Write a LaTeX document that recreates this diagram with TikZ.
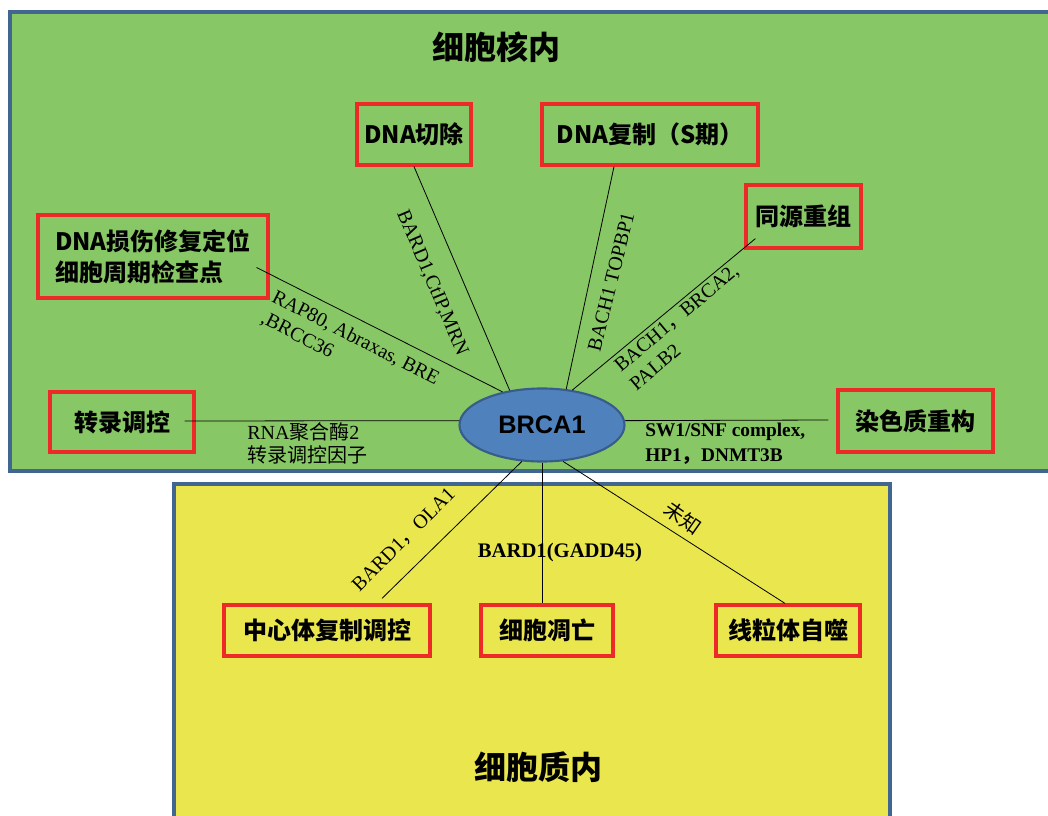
\documentclass[tikz,border=0pt]{standalone}
\usepackage{fontspec}
\setmainfont{Liberation Serif}
\newfontfamily\cjk{Noto Sans CJK SC}
\newfontfamily\sansf{Liberation Sans}
\usetikzlibrary{shapes.geometric,calc}
\definecolor{nucgreen}{HTML}{88C765}
\definecolor{cytyellow}{HTML}{EAE64E}
\definecolor{frameblue}{HTML}{41668F}
\definecolor{boxred}{HTML}{EC2A27}
\definecolor{ellblue}{HTML}{4F81BD}
\definecolor{ellborder}{HTML}{385D8A}
\begin{document}
\begin{tikzpicture}[x=0.75pt,y=-0.75pt,
  rbox/.style 2 args={draw=boxred, line width=2.4pt, minimum width=#1*0.75pt,
    minimum height=#2*0.75pt, inner sep=0pt, font=\cjk\bfseries\fontsize{18}{23}\selectfont},
  region/.style={draw=frameblue, line width=2.6pt},
  regtitle/.style={font=\cjk\bfseries\fontsize{24}{28}\selectfont, inner sep=0pt},
  lnk/.style={draw=black, line width=0.6pt},
  lbl/.style={font=\fontsize{15}{18}\selectfont, inner sep=0pt},
  lblb/.style={font=\bfseries\fontsize{15}{18}\selectfont, inner sep=0pt},
  hub/.style={ellipse, fill=ellblue, draw=ellborder, line width=1.6pt,
    minimum width=165*0.75pt, minimum height=73*0.75pt, inner sep=0pt,
    font=\sansf\bfseries\fontsize{19}{22}\selectfont}
]
\useasboundingbox (0,0) rectangle (1048,816);
\fill[white] (0,0) rectangle (1048,816);
% regions
\draw[region, fill=nucgreen] (10,12) rectangle (1075,471);
\draw[region, fill=cytyellow] (174,484) rectangle (890,850);
\node[regtitle] (tnuc) at (496,47) {细胞核内};
\node[regtitle] (tcyt) at (538,767) {细胞质内};

% hub
\node[hub] (brca) at (542,425) {BRCA1};

% boxes
\node[rbox={114}{61}] (dna1) at (414,134.5) {DNA切除};
\node[rbox={216}{61}] (dna2) at (650,134.5) {DNA复制（S期）};
\node[rbox={115}{63}] (hr) at (803.5,216.5) {同源重组};
\node[rbox={230}{83}, align=left] (dmg) at (153,256.5) {DNA损伤修复定位\\细胞周期检查点};
\node[rbox={144}{60}] (tr) at (122,422) {转录调控};
\node[rbox={155}{62}] (cr) at (915.5,421) {染色质重构};
\node[rbox={206}{51}] (cs) at (327,630.5) {中心体复制调控};
\node[rbox={132}{51}] (ap) at (547,630.5) {细胞凋亡};
\node[rbox={144}{51}] (mt) at (788,630.5) {线粒体自噬};

% connectors
\draw[lnk] (dna1.south) -- (brca.133);
\draw[lnk] ($(dna2.south)+(-36,0)$) -- (brca.56);
\draw[lnk] ($(hr.south west)+(11,-11)$) -- (brca.49);
\draw[lnk] ($(dmg.east)+(-13,11)$) -- (brca.140);
\draw[lnk] ($(tr.east)+(-11,-1)$) -- (brca.177);
\draw[lnk] (brca.3) -- ($(cr.west)+(-8,-1)$);
\draw[lnk] (brca.241) -- ($(cs.north)+(55,-5)$);
\draw[lnk] (brca.270) -- ($(ap.north)+(-5,0)$);
\draw[lnk] (brca.300) -- ($(mt.north)+(-3,0)$);

% connector labels
\node[lbl, rotate=-67] (l1) at (432,283) {BARD1,CtIP,MRN};
\node[lbl, rotate=76] (l2) at (611,282) {BACH1 TOPBP1};
\node[lbl, rotate=40, align=left] (l3) at (684,327) {BACH1{\cjk ，}BRCA2,\\PALB2};
\node[lbl, rotate=-27, align=left] (l4) at (350,349) {RAP80, Abraxas, BRE\\,BRCC36};
\node[lbl, anchor=north west, align=left, font=\fontsize{15}{17.5}\selectfont] (l5) at (247,422) {RNA{\cjk 聚合酶}2\\{\cjk 转录调控因子}};
\node[lblb, anchor=north west, align=left, font=\bfseries\fontsize{14.5}{18.5}\selectfont] (l6) at (645,423) {SW1/SNF complex,\\HP1{\cjk ，}DNMT3B};
\node[lbl, rotate=45] (l7) at (404,540) {BARD1{\cjk ，}OLA1};
\node[lblb, font=\bfseries\fontsize{15.5}{18}\selectfont] (l8) at (560,553) {BARD1(GADD45)};
\node[lbl, rotate=-35, font=\cjk\fontsize{15}{17}\selectfont] (l9) at (683,518) {未知};
\end{tikzpicture}
\end{document}
